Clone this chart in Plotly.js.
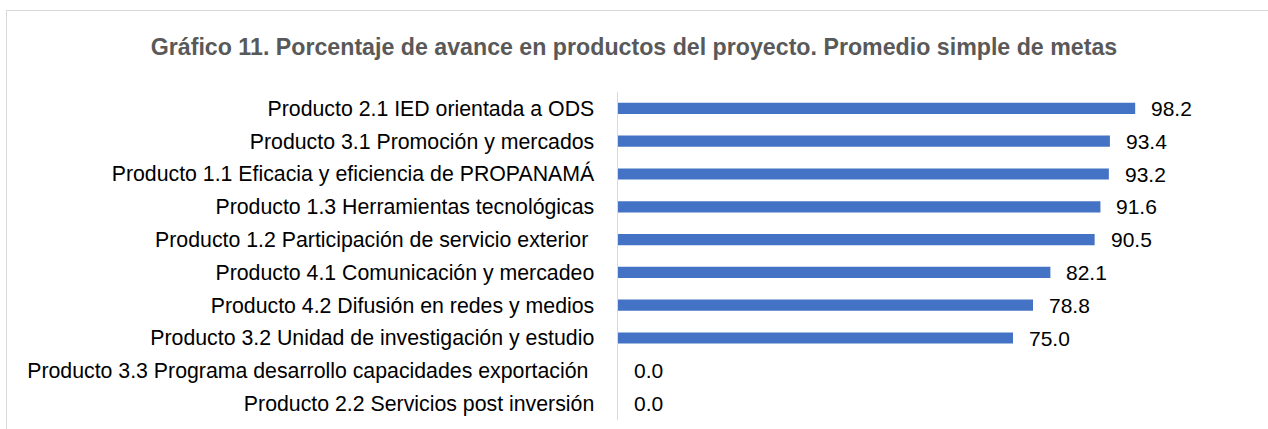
<!DOCTYPE html>
<html>
<head>
<meta charset="utf-8">
<script src="https://cdn.plot.ly/plotly-3.0.1.min.js"></script>
<style>
html,body{margin:0;padding:0;background:#fff;}
#frame{position:absolute;left:6px;top:10px;width:1400px;height:500px;border:1px solid #d9d9d9;box-sizing:border-box;pointer-events:none;z-index:5;}
#chart{position:absolute;left:0;top:0;width:1268px;height:429px;}
</style>
</head>
<body>
<div id="chart"></div>
<div id="frame"></div>
<script>
const categories = [
  "Producto 2.1 IED orientada a ODS",
  "Producto 3.1 Promoción y mercados",
  "Producto 1.1 Eficacia y eficiencia de PROPANAMÁ",
  "Producto 1.3 Herramientas tecnológicas",
  "Producto 1.2 Participación de servicio exterior ",
  "Producto 4.1 Comunicación y mercadeo",
  "Producto 4.2 Difusión en redes y medios",
  "Producto 3.2 Unidad de investigación y estudio",
  "Producto 3.3 Programa desarrollo capacidades exportación ",
  "Producto 2.2 Servicios post inversión"
];
const values = [98.2, 93.4, 93.2, 91.6, 90.5, 82.1, 78.8, 75.0, 0.0, 0.0];
const titleText = "Gráfico 11. Porcentaje de avance en productos del proyecto. Promedio simple de metas";

const FONT = 'Liberation Sans, Arial, sans-serif';

const labels = values.map((v, i) => ({
  x: v, y: categories[i], xref: 'x', yref: 'y',
  text: v.toFixed(1), showarrow: false, xanchor: 'left', xshift: 14,
  font: {family: FONT, size: 21, color: '#000'}
}));

const trace = {
  type: 'bar', orientation: 'h',
  x: values, y: categories,
  marker: {color: '#4472C4'},
  width: 0.34, hoverinfo: 'skip'
};

const layout = {
  width: 1268, height: 429,
  margin: {l: 618, r: 18, t: 91.5, b: 8.5, pad: 0},
  paper_bgcolor: '#fff', plot_bgcolor: '#fff',
  showlegend: false,
  title: {
    text: '<b>' + titleText + '</b>',
    x: 634/1268, xref: 'container', xanchor: 'center',
    y: 1 - 47/429, yref: 'container', yanchor: 'middle',
    font: {family: FONT, size: 23.2, color: '#595959'}
  },
  xaxis: {
    range: [0, 120], showgrid: false, zeroline: false, showticklabels: false,
    ticks: '', showline: false, fixedrange: true
  },
  yaxis: {
    autorange: 'reversed', type: 'category',
    showgrid: false, zeroline: false, ticks: '',
    showline: true, linecolor: '#d9d9d9', linewidth: 1.5,
    ticklabelstandoff: 18,
    tickfont: {family: FONT, size: 21.3, color: '#000'}
  },
  annotations: labels
};

Plotly.newPlot('chart', [trace], layout, {staticPlot: true, displayModeBar: false});
</script>
</body>
</html>
